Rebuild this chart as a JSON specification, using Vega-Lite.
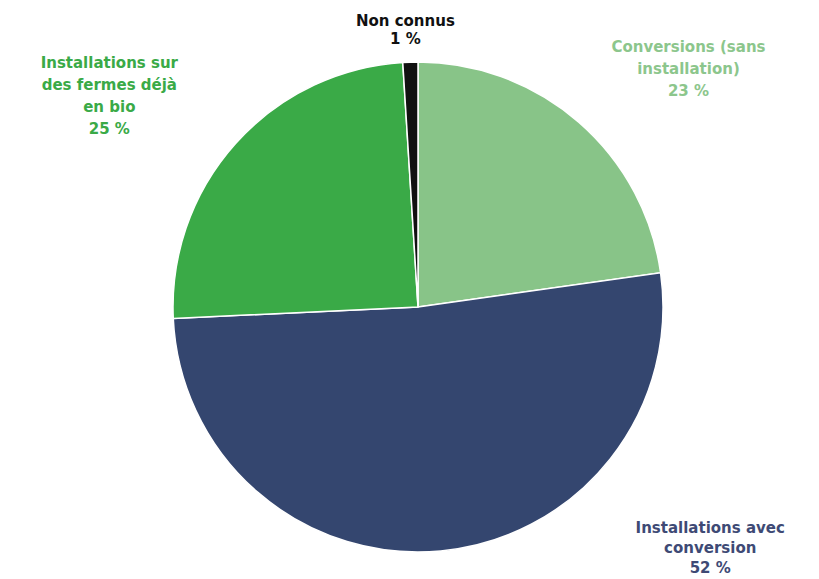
{
  "$schema": "https://vega.github.io/schema/vega-lite/v6.json",
  "width": 802,
  "height": 544,
  "autosize": {"type": "none"},
  "padding": {"left": 17, "top": 35, "right": 0, "bottom": 0},
  "background": "white",
  "config": {"view": {"stroke": null}},
  "data": {"values": [
    {"cat": "Conversions (sans installation)", "value": 23, "ordre": 1, "label": "Conversions (sans\ninstallation)\n23 %"},
    {"cat": "Installations avec conversion", "value": 52, "ordre": 2, "label": "Installations avec\nconversion\n52 %"},
    {"cat": "Installations sur des fermes déjà en bio", "value": 25, "ordre": 3, "label": "Installations sur\ndes fermes déjà\nen bio\n25 %"},
    {"cat": "Non connus", "value": 1, "ordre": 4, "label": "Non connus\n1 %"}
  ]},
  "encoding": {
    "theta": {"field": "value", "type": "quantitative", "stack": true},
    "order": {"field": "ordre", "type": "ordinal"}
  },
  "layer": [
    {
      "mark": {"type": "arc", "radius": 245, "stroke": "white", "strokeWidth": 1.5},
      "encoding": {
        "color": {
          "field": "cat", "type": "nominal", "legend": null,
          "scale": {
            "domain": ["Conversions (sans installation)", "Installations avec conversion", "Installations sur des fermes déjà en bio", "Non connus"],
            "range": ["#88c488", "#34466f", "#3aaa47", "#111111"]
          }
        }
      }
    },
    {
      "mark": {"type": "text", "radius": 330, "dx": 54, "dy": -11, "font": "DejaVu Sans", "fontWeight": "bold", "fontSize": 15, "lineBreak": "\n", "lineHeight": 22, "align": "center", "baseline": "middle", "color": "#8cc68c"},
      "encoding": {"text": {"condition": {"test": "datum.ordre == 1", "field": "label"}, "value": ""}}
    },
    {
      "mark": {"type": "text", "radius": 260, "dx": 268, "dy": -38, "font": "DejaVu Sans", "fontWeight": "bold", "fontSize": 15, "lineBreak": "\n", "lineHeight": 20, "align": "center", "baseline": "middle", "color": "#3e4a75"},
      "encoding": {"text": {"condition": {"test": "datum.ordre == 2", "field": "label"}, "value": ""}}
    },
    {
      "mark": {"type": "text", "radius": 330, "dx": -63, "dy": -24, "font": "DejaVu Sans", "fontWeight": "bold", "fontSize": 15, "lineBreak": "\n", "lineHeight": 22, "align": "center", "baseline": "middle", "color": "#3aaa47"},
      "encoding": {"text": {"condition": {"test": "datum.ordre == 3", "field": "label"}, "value": ""}}
    },
    {
      "mark": {"type": "text", "radius": 278, "dx": -4, "dy": -8, "font": "DejaVu Sans", "fontWeight": "bold", "fontSize": 15, "lineBreak": "\n", "lineHeight": 18, "align": "center", "baseline": "middle", "color": "#111111"},
      "encoding": {"text": {"condition": {"test": "datum.ordre == 4", "field": "label"}, "value": ""}}
    }
  ]
}
